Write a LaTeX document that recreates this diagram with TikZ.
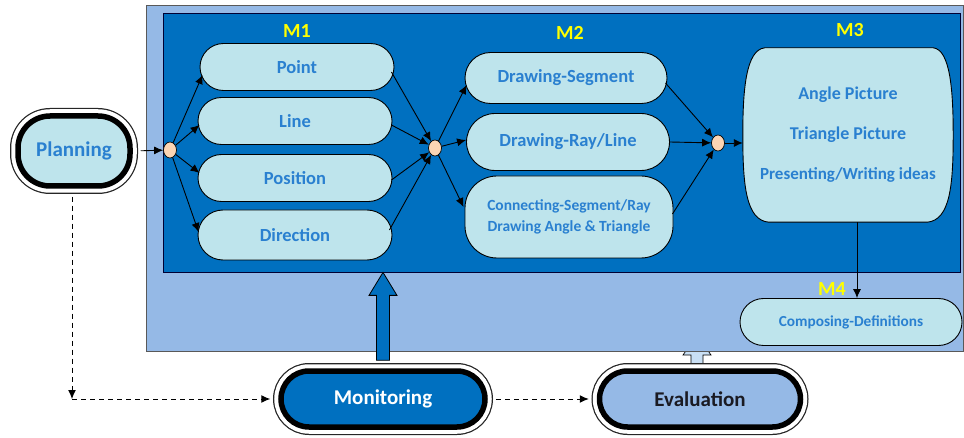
\documentclass[tikz,border=0pt]{standalone}
\usepackage{fontspec}
\setmainfont{Carlito}
\usetikzlibrary{arrows.meta,calc,shapes.geometric,shapes.misc}
\definecolor{outerblue}{HTML}{95B9E6}
\definecolor{innerblue}{HTML}{0070C0}
\definecolor{nodefill}{HTML}{BEE4EC}
\definecolor{textblue}{HTML}{2A80D0}
\definecolor{peach}{HTML}{FBD5B4}
\definecolor{labyellow}{HTML}{FFFF00}
\definecolor{stubfill}{HTML}{C9DFF4}
\definecolor{evaltext}{HTML}{1A1A22}
\begin{document}
\begin{tikzpicture}[x=1pt,y=-1pt,
  box/.style={draw=black, line width=0.9pt, fill=nodefill, text=textblue, inner sep=0pt, align=center},
  pill/.style={rounded rectangle, rounded rectangle arc length=180},
  m1box/.style={box, pill, minimum width=194pt, minimum height=47pt, font=\bfseries\fontsize{18.5}{20}\selectfont},
  m2box/.style={box, font=\bfseries\fontsize{18.5}{20}\selectfont},
  junc/.style={ellipse, draw=black, line width=0.7pt, fill=peach, minimum width=13pt, minimum height=16pt, inner sep=0pt},
  mlabel/.style={text=labyellow, font=\bfseries\fontsize{20}{22}\selectfont, inner sep=0pt},
  ringed/.style={preaction={draw=black!85, line width=16pt}, preaction={draw=white, line width=13.5pt}, draw=black, line width=5.5pt, inner sep=0pt},
  arr/.style={-{Latex[length=9pt,width=8pt]}, line width=0.9pt, draw=black},
  darr/.style={-{Latex[length=9pt,width=8pt]}, line width=1pt, draw=black, dash pattern=on 5pt off 4pt}
]
\useasboundingbox (0,0) rectangle (964,438);

% small stub arrow under Evaluation (mostly hidden by the outer panel)
\draw[fill=stubfill, line width=0.7pt] (691,364) -- (691,355) -- (683,355) -- (697,335) -- (711,355) -- (703,355) -- (703,364) -- cycle;

% panels
\node[draw=gray!70!black, line width=0.8pt, fill=outerblue, minimum width=817pt, minimum height=346pt, inner sep=0pt] (outer) at (554.5,178) {};
\node[draw=black!80!blue, line width=0.8pt, fill=innerblue, minimum width=797pt, minimum height=259pt, inner sep=0pt] (inner) at (561.5,142.5) {};

% labels
\node[mlabel] (lm1) at (297,31) {M1};
\node[mlabel] (lm2) at (570,33) {M2};
\node[mlabel] (lm3) at (850,30) {M3};

% M1 nodes
\node[m1box] (point) at (297,67) {Point};
\node[m1box] (line) at (295,121) {Line};
\node[m1box] (position) at (295,178) {Position};
\node[m1box, minimum height=50pt] (direction) at (295,235) {Direction};

% M2 nodes
\node[m2box, pill, minimum width=202pt, minimum height=51pt] (dseg) at (566,78) {Drawing-Segment};
\node[m2box, pill, minimum width=203pt, minimum height=57pt] (dray) at (568,142) {Drawing-Ray/Line};
\node[m2box, rounded corners=32pt, minimum width=208pt, minimum height=82pt, font=\bfseries\fontsize{15.5}{21}\selectfont] (conn) at (569,217) {Connecting-Segment/Ray\\Drawing Angle \& Triangle};

% M3 (box with bulging sides)
\node[minimum width=210pt, minimum height=174pt, inner sep=0pt] (m3) at (848,135) {};
\draw[fill=nodefill, line width=0.9pt]
  ($(m3.north west)+(22,0)$) -- ($(m3.north east)+(-20,0)$)
  .. controls ($(m3.north east)+(-3,2)$) and ($(m3.east)+(0,-45)$) .. (m3.east)
  .. controls ($(m3.east)+(0,50)$) and ($(m3.south east)+(-3,-2)$) .. ($(m3.south east)+(-26,0)$)
  -- ($(m3.south west)+(26,0)$)
  .. controls ($(m3.south west)+(3,-2)$) and ($(m3.west)+(0,50)$) .. (m3.west)
  .. controls ($(m3.west)+(0,-45)$) and ($(m3.north west)+(3,2)$) .. ($(m3.north west)+(22,0)$) -- cycle;
\node[text=textblue, align=center, inner sep=0pt, font=\bfseries\fontsize{18}{40}\selectfont] (m3t) at (m3.center) {Angle Picture\\Triangle Picture\\{\fontsize{17}{40}\selectfont Presenting/Writing ideas}};

% M4
\node[box, pill, minimum width=222pt, minimum height=47pt, font=\bfseries\fontsize{15.3}{18}\selectfont] (m4) at (851,322) {Composing-Definitions};
\node[mlabel] (lm4) at (832,289) {M4};

% junctions
\node[junc] (j1) at (170,150) {};
\node[junc] (j2) at (435,148) {};
\node[junc] (j3) at (718,143) {};

% outside nodes
\node[ringed, fill=nodefill, rounded corners=32pt, minimum width=112pt, minimum height=70pt, text=textblue, font=\bfseries\fontsize{21}{24}\selectfont] (planning) at (74,151) {Planning};
\node[ringed, pill, fill=innerblue, minimum width=204pt, minimum height=56pt, text=white, font=\bfseries\fontsize{21}{24}\selectfont] (monitoring) at (383,399) {Monitoring};
\node[ringed, pill, fill=outerblue, minimum width=201pt, minimum height=56pt, text=evaltext, font=\bfseries\fontsize{21}{24}\selectfont] (evaluation) at (700,399) {Evaluation};

% block arrow Monitoring -> inner panel
\draw[fill=innerblue, line width=0.8pt]
  ($(monitoring.north)+(-6.5,-8)$) -- ($(monitoring.north |- inner.south)+(-6.5,23)$)
  -- ($(monitoring.north |- inner.south)+(-14,23)$) -- (monitoring.north |- inner.south)
  -- ($(monitoring.north |- inner.south)+(14,23)$) -- ($(monitoring.north |- inner.south)+(6.5,23)$)
  -- ($(monitoring.north)+(6.5,-8)$) -- cycle;

% connectors
\draw[arr, shorten <=8pt] (planning.east) -- (j1);
\draw[arr] (j1) -- ($(point.west)+(3,8)$);
\draw[arr] (j1) -- ($(line.west)+(2,4)$);
\draw[arr] (j1) -- ($(position.west)+(2,-5)$);
\draw[arr] (j1) -- ($(direction.west)+(1,-3)$);

\draw[arr] ($(point.east)+(-3,5)$) -- (j2);
\draw[arr] ($(line.east)+(-1,4)$) -- (j2);
\draw[arr] ($(position.east)+(-1,2)$) -- (j2);
\draw[arr] ($(direction.east)+(-3,-5)$) -- (j2);

\draw[arr] (j2) -- ($(dseg.west)+(2,7)$);
\draw[arr] (j2) -- ($(dray.west)+(0,-2)$);
\draw[arr] (j2) -- ($(conn.west)+(-1,-10)$);

\draw[arr] ($(dseg.east)+(-2,5)$) -- (j3);
\draw[arr] (dray.east) -- (j3);
\draw[arr] ($(conn.east)+(-1,-3)$) -- (j3);
\draw[arr] (j3) -- (m3.west |- j3);

\draw[arr] ($(m3.south)+(9,0)$) -- ($(m4.north)+(6,0)$);

% dashed connectors
\coordinate (corner) at ($(planning.south |- monitoring.west)+(-2,0)$);
\draw[darr, shorten <=8pt] ($(planning.south)+(-2,0)$) -- (corner);
\draw[darr, shorten >=8pt] (corner) -- (monitoring.west);
\draw[darr, shorten <=8pt, shorten >=8pt] (monitoring.east) -- (evaluation.west);
\end{tikzpicture}
\end{document}
